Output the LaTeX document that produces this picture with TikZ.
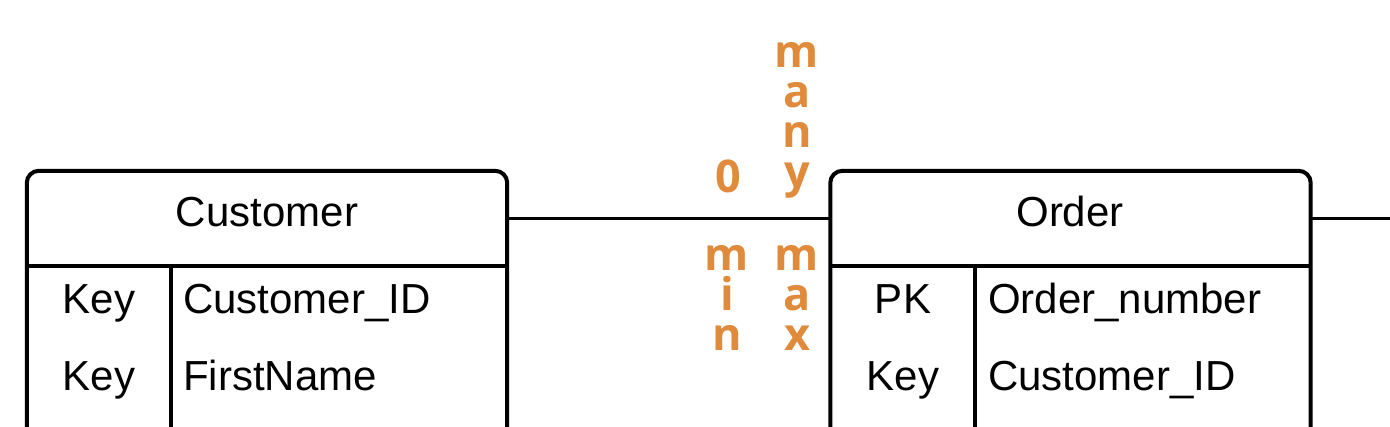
\documentclass[tikz,border=0pt]{standalone}
\usepackage{fontspec}
\setmainfont{Liberation Sans}
\newfontfamily\orangefont{Open Sans}
\definecolor{cardc}{HTML}{E08A3C}
\begin{document}
\begin{tikzpicture}[x=1pt,y=-1pt,
  ent/.style={line width=4pt, line join=round},
  sep/.style={line width=3.5pt},
  conn/.style={line width=3pt},
  head/.style={minimum width=480pt, minimum height=95pt, inner sep=0pt},
  lbl/.style={font=\fontsize{42}{42}\selectfont, anchor=base, inner sep=0pt},
  card/.style={font=\orangefont\bfseries\fontsize{45}{40}\selectfont, text=cardc, anchor=base, inner sep=0pt, align=center}]
\useasboundingbox (0,0) rectangle (1390,426);
% Customer entity
\node[head] (custhead) at (267,218.5) {};
\draw[ent, rounded corners=12pt] (custhead.south west) ++(0,250) -- (custhead.north west) -- (custhead.north east) -- ++(0,350);
\draw[sep] (custhead.south west) -- (custhead.south east);
\coordinate (cdivtop) at (171,266);
\coordinate (cdivbot) at (171,460);
\draw[sep] (cdivtop) -- (cdivbot);
\node[lbl] (custtitle) at (267,226) {Customer};
\node[lbl] (ck1) at (99,313) {Key};
\node[lbl, anchor=base west] (cf1) at (183,313) {Customer\_ID};
\node[lbl] (ck2) at (99,390) {Key};
\node[lbl, anchor=base west] (cf2) at (183,390) {FirstName};
% Order entity
\node[head] (orderhead) at (1070.5,218.5) {};
\draw[ent, rounded corners=12pt] (orderhead.south west) ++(0,250) -- (orderhead.north west) -- (orderhead.north east) -- ++(0,350);
\draw[sep] (orderhead.south west) -- (orderhead.south east);
\coordinate (odivtop) at (975,266);
\coordinate (odivbot) at (975,460);
\draw[sep] (odivtop) -- (odivbot);
\node[lbl] (ordertitle) at (1070,226) {Order};
\node[lbl] (ok1) at (903,313) {PK};
\node[lbl, anchor=base west] (of1) at (988,313) {Order\_number};
\node[lbl] (ok2) at (903,390) {Key};
\node[lbl, anchor=base west] (of2) at (988,390) {Customer\_ID};
% connectors
\draw[conn] (custhead.east) -- (orderhead.west);
\coordinate (rend) at (1400,218.5);
\draw[conn] (orderhead.east) -- (rend);
% cardinality labels
\node[card] (many) at (797,187) {m\\a\\n\\y};
\node[card] (zero) at (728,192) {0};
\node[card] (minlbl) at (727,350) {m\\i\\n};
\node[card] (maxlbl) at (797,350) {m\\a\\x};
\end{tikzpicture}
\end{document}
